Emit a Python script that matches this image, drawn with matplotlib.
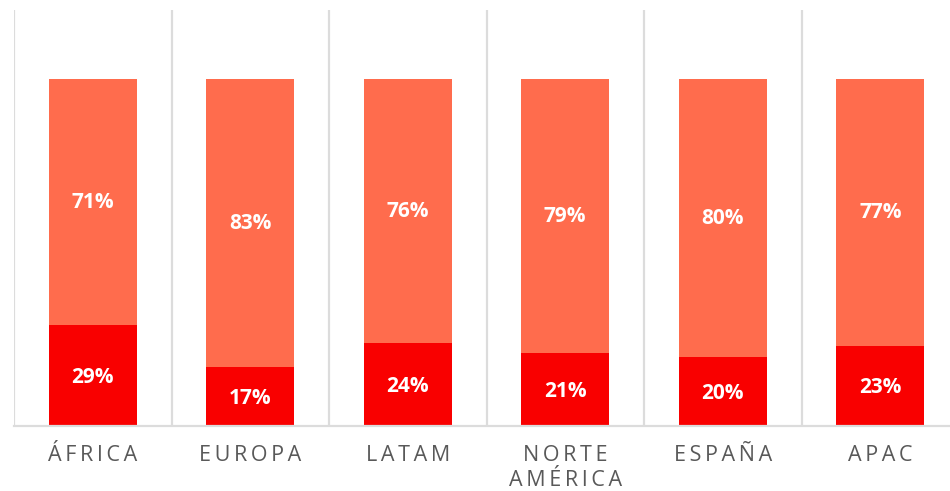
import matplotlib
matplotlib.use('Agg')
import numpy as np
import matplotlib.pyplot as plt

regiones = ['ÁFRICA', 'EUROPA', 'LATAM', 'NORTE\nAMÉRICA', 'ESPAÑA', 'APAC']
bajo = [29, 17, 24, 21, 20, 23]
alto = [71, 83, 76, 79, 80, 77]

rojo = '#F90000'
coral = '#FF6C4D'
gris = '#DCDCDC'

def espaciar(txt):
    # imitate the wide letter spacing of the original
    return '\n'.join('\u2009'.join(list(linea)) for linea in txt.split('\n'))

fig = plt.figure(figsize=(9.5, 4.91), dpi=100)
ax = fig.add_axes([14/950, 65/491, 936/950, 416/491])

x = np.arange(len(regiones))
b = np.array(bajo) / 100
t = np.array(alto) / 100
ax.bar(x, b, width=0.56, color=rojo, zorder=3)
ax.bar(x, t, width=0.56, bottom=b, color=coral, zorder=3)

for i in range(len(regiones)):
    ax.text(x[i], b[i] / 2 - 0.005, f'{bajo[i]}%', ha='center', va='center',
            color='white', fontsize=15, fontweight='bold', family='Open Sans', zorder=4)
    ax.text(x[i], b[i] + t[i] / 2, f'{alto[i]}%', ha='center', va='center',
            color='white', fontsize=15, fontweight='bold', family='Open Sans', zorder=4)

# separators between categories
for g in np.arange(-0.5, len(regiones), 1.0):
    ax.axvline(g, color=gris, linewidth=1.6, zorder=1)

ax.set_xlim(-0.5, 5.5 - 9/157.5)
ax.set_ylim(0, 1.2)
ax.set_yticks([])
ax.set_xticks(x)
ax.set_xticklabels([espaciar(r) for r in regiones], fontsize=15.5, color='#595959',
                   family='Open Sans', linespacing=1.2)
ax.tick_params(axis='x', length=0, pad=14)
for s in ['top', 'right', 'left']:
    ax.spines[s].set_visible(False)
ax.spines['bottom'].set_color(gris)
ax.spines['bottom'].set_linewidth(1.6)
ax.spines['bottom'].set_zorder(5)

fig.savefig('out.png', dpi=100)
